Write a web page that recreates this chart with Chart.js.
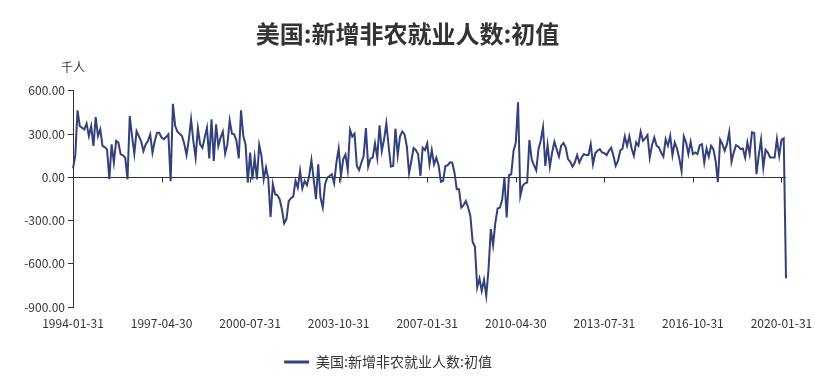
<!DOCTYPE html>
<html>
<head>
<meta charset="utf-8">
<script src="https://cdn.jsdelivr.net/npm/chart.js@4.4.1/dist/chart.umd.min.js"></script>
<style>
  html, body { margin: 0; padding: 0; background: #ffffff; }
  #wrap { width: 815px; height: 392px; position: relative; }
</style>
</head>
<body>
<div id="wrap"><canvas id="c" width="815" height="392"></canvas></div>
<script>
// ---- Data (monthly, thousands) ----
const chartTitle = '美国:新增非农就业人数:初值';
const seriesName = '美国:新增非农就业人数:初值';
const unitLabel = '千人';
const startYear = 1994;
const startMonth = 1;
const yTicks = [-900, -600, -300, 0, 300, 600];
const labelEvery = 39;

const payrolls = [
  // 1994
  62, 150, 464, 355, 344, 332, 372, 286, 355, 217, 418, 286,
  // 1995
  332, 217, 210, 194, -14, 228, 101, 252, 240, 159, 152, 136,
  // 1996
  -14, 425, 286, 164, 321, 286, 252, 182, 228, 252, 298, 171,
  // 1997
  252, 309, 309, 275, 264, 279, 298, -28, 510, 355, 316, 302,
  // 1998
  286, 233, 155, 260, 402, 252, 136, 339, 228, 205, 275, 344,
  // 1999
  131, 402, 113, 367, 217, 275, 316, 164, 228, 395, 302, 298,
  // 2000
  252, 131, 464, 286, 228, -37, 171, -14, 136, -14, 224, 148,
  // 2001
  -14, 67, -10, -275, -48, -118, -125, -152, -222, -320, -290, -165,
  // 2002
  -145, -134, -25, -72, 44, -78, -25, -55, 9, 120, -14, -152,
  // 2003
  90, -141, -210, -48, -2, 9, 21, -42, 101, 199, 9, 125,
  // 2004
  157, 51, 328, 282, 302, 78, 51, 101, 148, 341, 74, 129,
  // 2005
  136, 235, 136, 360, 182, 263, 374, 217, 74, 78, 337, 152,
  // 2006
  282, 318, 298, 217, 28, 113, 203, 189, 159, 9, 205, 189,
  // 2007
  235, 90, 189, 90, 136, 83, -32, -25, 78, 83, 104, 101,
  // 2008
  32, -83, -83, -210, -194, -164, -210, -268, -448, -480, -764, -702,
  // 2009
  -787, -711, -822, -637, -360, -471, -314, -217, -210, -157, -2, -279,
  // 2010
  14, 21, 182, 240, 521, -129, -60, -42, -37, 258, 125, 85,
  // 2011
  48, 195, 255, 347, 79, 223, 74, 172, 247, 195, 144, 219,
  // 2012
  237, 207, 126, 107, 74, 102, 154, 102, 137, 161, 154, 154,
  // 2013
  230, 91, 167, 184, 195, 172, 167, 154, 184, 205, 149, 79,
  // 2014
  114, 184, 200, 284, 219, 284, 200, 149, 242, 219, 316, 254,
  // 2015
  270, 293, 137, 223, 277, 219, 207, 172, 144, 265, 219, 288,
  // 2016
  154, 242, 200, 130, 44, 284, 242, 161, 247, 161, 172, 161,
  // 2017
  223, 230, 102, 200, 144, 219, 195, 114, -33, 260, 230, 184,
  // 2018
  230, 312, 107, 172, 223, 214, 195, 200, 137, 242, 161, 312,
  // 2019
  307, 21, 154, 260, 67, 191, 172, 137, 137, 137, 265, 149,
  // 2020
  260, 270, -701
];

// month-end date labels for each observation
function monthEnd(i) {
  const y = startYear + Math.floor((startMonth - 1 + i) / 12);
  const m = (startMonth - 1 + i) % 12 + 1;
  const d = new Date(y, m, 0).getDate();
  return y + '-' + String(m).padStart(2, '0') + '-' + String(d).padStart(2, '0');
}
const categories = payrolls.map((_, i) => monthEnd(i));

const FONT = '"Microsoft YaHei", "Noto Sans CJK SC", "Liberation Sans", sans-serif';
const TEXT = '#333333';
const LINE = '#34407c';

const decor = {
  id: 'decor',
  afterLayout(chart) {
    // centre the title across the full canvas, nudge legend like the original
    const t = chart.titleBlock;
    if (t) { t.left = 0; t.right = chart.width; t.width = chart.width; }
    const l = chart.legend;
    if (l) { l.left -= 5; l.right -= 5; }
  },
  beforeDatasetsDraw(chart) {
    const ctx = chart.ctx, xs = chart.scales.x, ys = chart.scales.y;
    const y0 = Math.round(ys.getPixelForValue(0)) + 0.5;
    ctx.save();
    ctx.strokeStyle = TEXT;
    ctx.lineWidth = 1;
    for (let i = 0; i < categories.length; i += labelEvery) {
      const x = Math.round(xs.getPixelForValue(i)) + 0.5;
      ctx.beginPath();
      ctx.moveTo(x, y0);
      ctx.lineTo(x, y0 + 5);
      ctx.stroke();
    }
    ctx.restore();
  },
  afterDraw(chart) {
    const ctx = chart.ctx, ca = chart.chartArea;
    ctx.save();
    ctx.fillStyle = TEXT;
    ctx.font = '12px ' + FONT;
    ctx.textAlign = 'center';
    ctx.textBaseline = 'middle';
    ctx.fillText(unitLabel, ca.left, ca.top - 23);
    ctx.restore();
  }
};

new Chart(document.getElementById('c'), {
  type: 'line',
  data: {
    labels: categories,
    datasets: [{
      label: seriesName,
      data: payrolls,
      borderColor: LINE,
      backgroundColor: LINE,
      borderWidth: 2,
      pointRadius: 0,
      pointHoverRadius: 0,
      tension: 0,
      fill: false
    }]
  },
  options: {
    responsive: false,
    animation: false,
    devicePixelRatio: 1,
    layout: { padding: { left: 0, right: 29, top: 0, bottom: 13 } },
    plugins: {
      title: {
        display: true,
        text: chartTitle,
        color: TEXT,
        font: { family: FONT, size: 24, weight: 'bold' },
        padding: { top: 19, bottom: 43 }
      },
      legend: {
        display: true,
        position: 'bottom',
        labels: {
          color: TEXT,
          font: { family: FONT, size: 14 },
          usePointStyle: true,
          pointStyle: 'line',
          pointStyleWidth: 25,
          padding: 10,
          generateLabels(chart) {
            const items = Chart.defaults.plugins.legend.labels.generateLabels(chart);
            items.forEach(it => { it.lineWidth = 3; it.strokeStyle = LINE; it.pointStyle = 'line'; });
            return items;
          }
        }
      },
      tooltip: { enabled: false }
    },
    scales: {
      x: {
        type: 'category',
        offset: false,
        border: { display: false },
        grid: { display: false, drawTicks: false },
        ticks: {
          autoSkip: false,
          maxRotation: 0,
          minRotation: 0,
          padding: 9,
          color: TEXT,
          font: { family: FONT, size: 12 },
          callback(v, i) { return i % labelEvery === 0 ? categories[i] : null; }
        },
        afterFit(s) { s.height = 38; s.paddingLeft = 0; s.paddingRight = 0; }
      },
      y: {
        min: yTicks[0],
        max: yTicks[yTicks.length - 1],
        afterBuildTicks(s) { s.ticks = yTicks.map(v => ({ value: v })); },
        border: { display: true, color: TEXT, width: 1 },
        grid: {
          drawOnChartArea: true,
          drawTicks: true,
          tickLength: 5,
          tickColor: TEXT,
          color(ctx) { return ctx.tick && ctx.tick.value === 0 ? TEXT : 'rgba(0,0,0,0)'; }
        },
        ticks: {
          padding: 3,
          color: TEXT,
          font: { family: FONT, size: 12 },
          callback(v) { return Number(v).toFixed(2); }
        },
        afterFit(s) { s.width = 73; }
      }
    }
  },
  plugins: [decor]
});
</script>
</body>
</html>
